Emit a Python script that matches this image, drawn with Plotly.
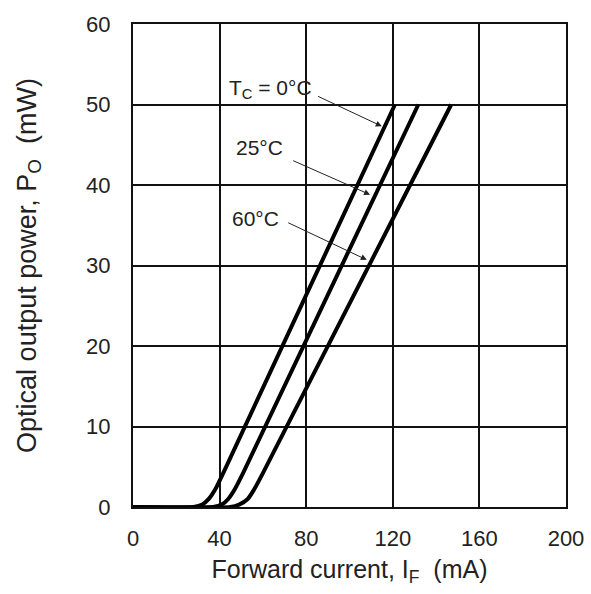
import plotly.graph_objects as go

# Data
current_0c = [0, 28, 32, 35, 38, 42, 121]
power_0c = [0, 0, 0.3, 1.0, 2.2, 4.4, 50]
current_25c = [0, 37, 41, 44, 47, 51, 131.8]
power_25c = [0, 0, 0.3, 1.0, 2.2, 4.3, 50]
current_60c = [0, 45, 49, 53, 56, 60, 147]
power_60c = [0, 0, 0.3, 1.0, 2.2, 4.2, 50]

x_ticks = [0, 40, 80, 120, 160, 200]
y_ticks = [0, 10, 20, 30, 40, 50, 60]

# labels: text, text position, arrow tail, arrow head
labels = ["T<sub>C</sub> = 0°C", "25°C", "60°C"]
label_pos = [(63.5, 51.9), (58.2, 44.7), (56.8, 35.8)]
arrow_tail = [(84.8, 51.1), (73.3, 43.1), (71.0, 35.4)]
arrow_head = [(114.9, 47.3), (109.5, 38.8), (108.0, 30.7)]

font = "Liberation Sans, Arial, sans-serif"

fig = go.Figure()
for xs, ys in [(current_0c, power_0c), (current_25c, power_25c), (current_60c, power_60c)]:
    fig.add_trace(go.Scatter(x=xs, y=ys, mode="lines",
                             line=dict(color="black", width=4, shape="spline", smoothing=0.6),
                             showlegend=False, hoverinfo="skip"))

annotations = []
for t, (tx, ty) in zip(labels, label_pos):
    annotations.append(dict(x=tx, y=ty, xref="x", yref="y", text=t, showarrow=False,
                            font=dict(family=font, size=21, color="#222")))
for (ax_, ay_), (hx, hy) in zip(arrow_tail, arrow_head):
    annotations.append(dict(x=hx, y=hy, ax=ax_, ay=ay_, xref="x", yref="y",
                            axref="x", ayref="y", text="", showarrow=True,
                            arrowhead=2, arrowsize=1.2, arrowwidth=1, arrowcolor="#222"))

fig.update_layout(
    width=591, height=594,
    margin=dict(l=133, r=25, t=21, b=87),
    paper_bgcolor="white", plot_bgcolor="white",
    font=dict(family=font, size=22, color="#222"),
    annotations=annotations,
    xaxis=dict(range=[0, 200], tickvals=x_ticks, showgrid=True, gridcolor="#111", gridwidth=1.5,
               showline=True, linecolor="#111", linewidth=2, mirror=True, zeroline=False,
               ticks="outside", ticklen=11, tickcolor="rgba(0,0,0,0)", automargin=False,
               tickfont=dict(size=22),
               title=dict(text="Forward current, I<sub>F</sub>  (mA)", standoff=10,
                          font=dict(size=25))),
    yaxis=dict(range=[0, 60], tickvals=y_ticks, showgrid=True, gridcolor="#111", gridwidth=1.5,
               showline=True, linecolor="#111", linewidth=2, mirror=True, zeroline=False,
               ticks="outside", ticklen=16, tickcolor="rgba(0,0,0,0)", automargin=True,
               tickfont=dict(size=22),
               title=dict(text="Optical output power, P<sub>O</sub>  (mW)", standoff=42,
                          font=dict(size=27))),
)

fig.write_html("out.html", post_script="document.body.style.margin='0px';",
               config={"displayModeBar": False})
